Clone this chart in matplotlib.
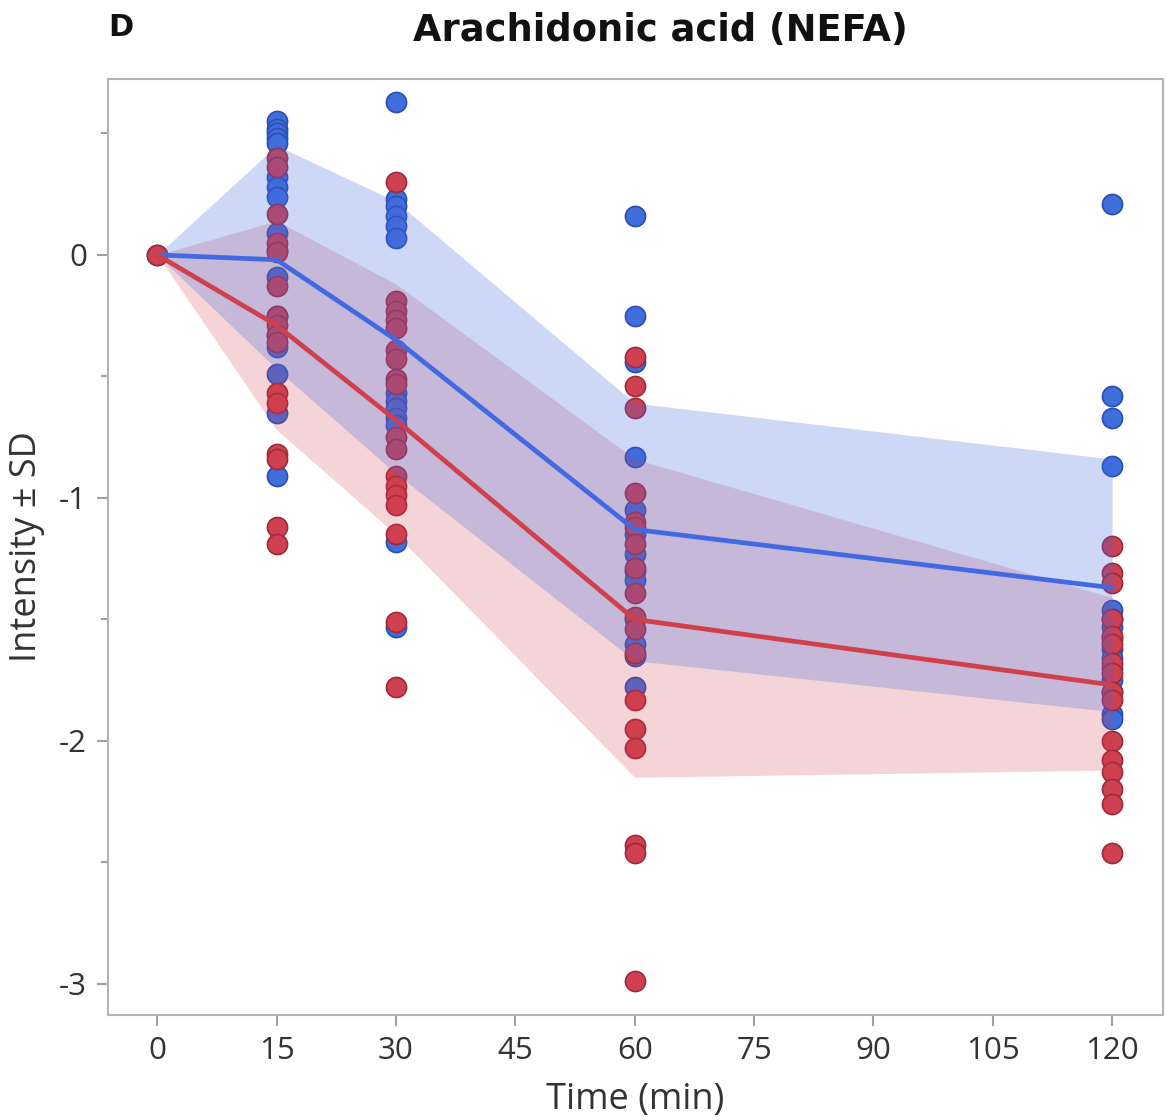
import matplotlib
matplotlib.use("Agg")
import matplotlib.pyplot as plt
from matplotlib.ticker import MultipleLocator

# ---- data ----
times = [0, 15, 30, 60, 120]

blue_points = {
    0: [0.0],
    15: [0.55, 0.52, 0.50, 0.48, 0.46, 0.32, 0.28, 0.24, 0.09, 0.02, -0.09,
         -0.25, -0.33, -0.38, -0.49, -0.65, -0.91],
    30: [0.63, 0.23, 0.20, 0.16, 0.12, 0.07, -0.57, -0.60, -0.63, -0.67,
         -0.70, -1.18, -1.53],
    60: [0.16, -0.25, -0.44, -0.83, -1.05, -1.15, -1.23, -1.30, -1.34, -1.50,
         -1.60, -1.65, -1.78],
    120: [0.21, -0.58, -0.67, -0.87, -1.46, -1.50, -1.53, -1.58, -1.62, -1.66,
          -1.70, -1.75, -1.80, -1.89, -1.91],
}
red_points = {
    0: [0.0],
    15: [0.40, 0.36, 0.17, 0.05, 0.01, -0.13, -0.25, -0.29, -0.33, -0.36,
         -0.57, -0.61, -0.82, -0.84, -1.12, -1.19],
    30: [0.30, -0.19, -0.23, -0.27, -0.30, -0.39, -0.43, -0.51, -0.53, -0.75,
         -0.80, -0.91, -0.95, -0.99, -1.03, -1.15, -1.51, -1.78],
    60: [-0.42, -0.54, -0.63, -0.98, -1.10, -1.12, -1.19, -1.29, -1.39, -1.49,
         -1.54, -1.64, -1.83, -1.95, -2.03, -2.43, -2.46, -2.99],
    120: [-1.20, -1.31, -1.35, -1.50, -1.57, -1.60, -1.68, -1.72, -1.80, -1.83,
          -2.00, -2.08, -2.13, -2.20, -2.26, -2.46],
}

blue_mean = [0.0, -0.02, -0.35, -1.13, -1.37]
blue_upper = [0.0, 0.45, 0.22, -0.61, -0.84]
blue_lower = [0.0, -0.47, -0.90, -1.67, -1.88]

red_mean = [0.0, -0.29, -0.68, -1.50, -1.77]
red_upper = [0.0, 0.14, -0.12, -0.84, -1.41]
red_lower = [0.0, -0.72, -1.15, -2.15, -2.12]

x_ticks = [0, 15, 30, 45, 60, 75, 90, 105, 120]
y_ticks = [0, -1, -2, -3]

title = "Arachidonic acid (NEFA)"
panel_label = "D"
x_label = "Time (min)"
y_label = "Intensity ± SD"

# ---- style ----
plt.rcParams['font.family'] = ['Open Sans', 'DejaVu Sans']
BLUE = "#3f6ddc"
BLUE_EDGE = "#2a4fb0"
RED = "#cf4150"
RED_EDGE = "#9e2a3a"
BLUE_LINE = "#4169e1"
RED_LINE = "#d0404c"

fig = plt.figure(figsize=(11.67, 11.2), dpi=100)
ax = fig.add_axes([0.0925, 0.0938, 0.9041, 0.8357])

# markers (drawn beneath the bands)
for t in times:
    ys = blue_points[t]
    ax.scatter([t] * len(ys), ys, s=210, c=BLUE, edgecolors=BLUE_EDGE,
               linewidths=1.2, zorder=1)
for t in times:
    ys = red_points[t]
    ax.scatter([t] * len(ys), ys, s=210, c=RED, edgecolors=RED_EDGE,
               linewidths=1.2, zorder=2)

# bands
ax.fill_between(times, red_lower, red_upper, color="#d23c4b", alpha=0.22,
                linewidth=0, zorder=3)
ax.fill_between(times, blue_lower, blue_upper, color="#4169e1", alpha=0.26,
                linewidth=0, zorder=4)

# mean lines
ax.plot(times, blue_mean, color=BLUE_LINE, lw=3.4, zorder=5,
        solid_joinstyle='round')
ax.plot(times, red_mean, color=RED_LINE, lw=3.4, zorder=6,
        solid_joinstyle='round')

ax.set_xlim(-6.2, 126.4)
ax.set_ylim(-3.128, 0.724)
ax.set_xticks(x_ticks)
ax.set_yticks(y_ticks)
ax.set_yticklabels([str(v) for v in y_ticks])
ax.yaxis.set_minor_locator(MultipleLocator(0.5))

for sp in ax.spines.values():
    sp.set_color("#b4b4b4")
    sp.set_linewidth(1.5)

ax.tick_params(axis='both', which='major', length=8, width=1.5,
               color="#a0a0a0", labelsize=22.5, labelcolor="#333333", pad=7)
ax.tick_params(axis='y', which='minor', length=5, width=1.5, color="#a0a0a0")

ax.set_xlabel(x_label, fontsize=26, color="#333333", labelpad=12)
ax.set_ylabel(y_label, fontsize=26, color="#333333", labelpad=10)

fig.text(0.566, 0.973, title, ha='center', va='center', fontsize=26.5,
         fontweight='bold', color="#111111", family='DejaVu Sans')
fig.text(0.093, 0.975, panel_label, ha='left', va='center', fontsize=22,
         fontweight='bold', color="#111111", family='DejaVu Sans')

fig.savefig("out.png", dpi=100)
